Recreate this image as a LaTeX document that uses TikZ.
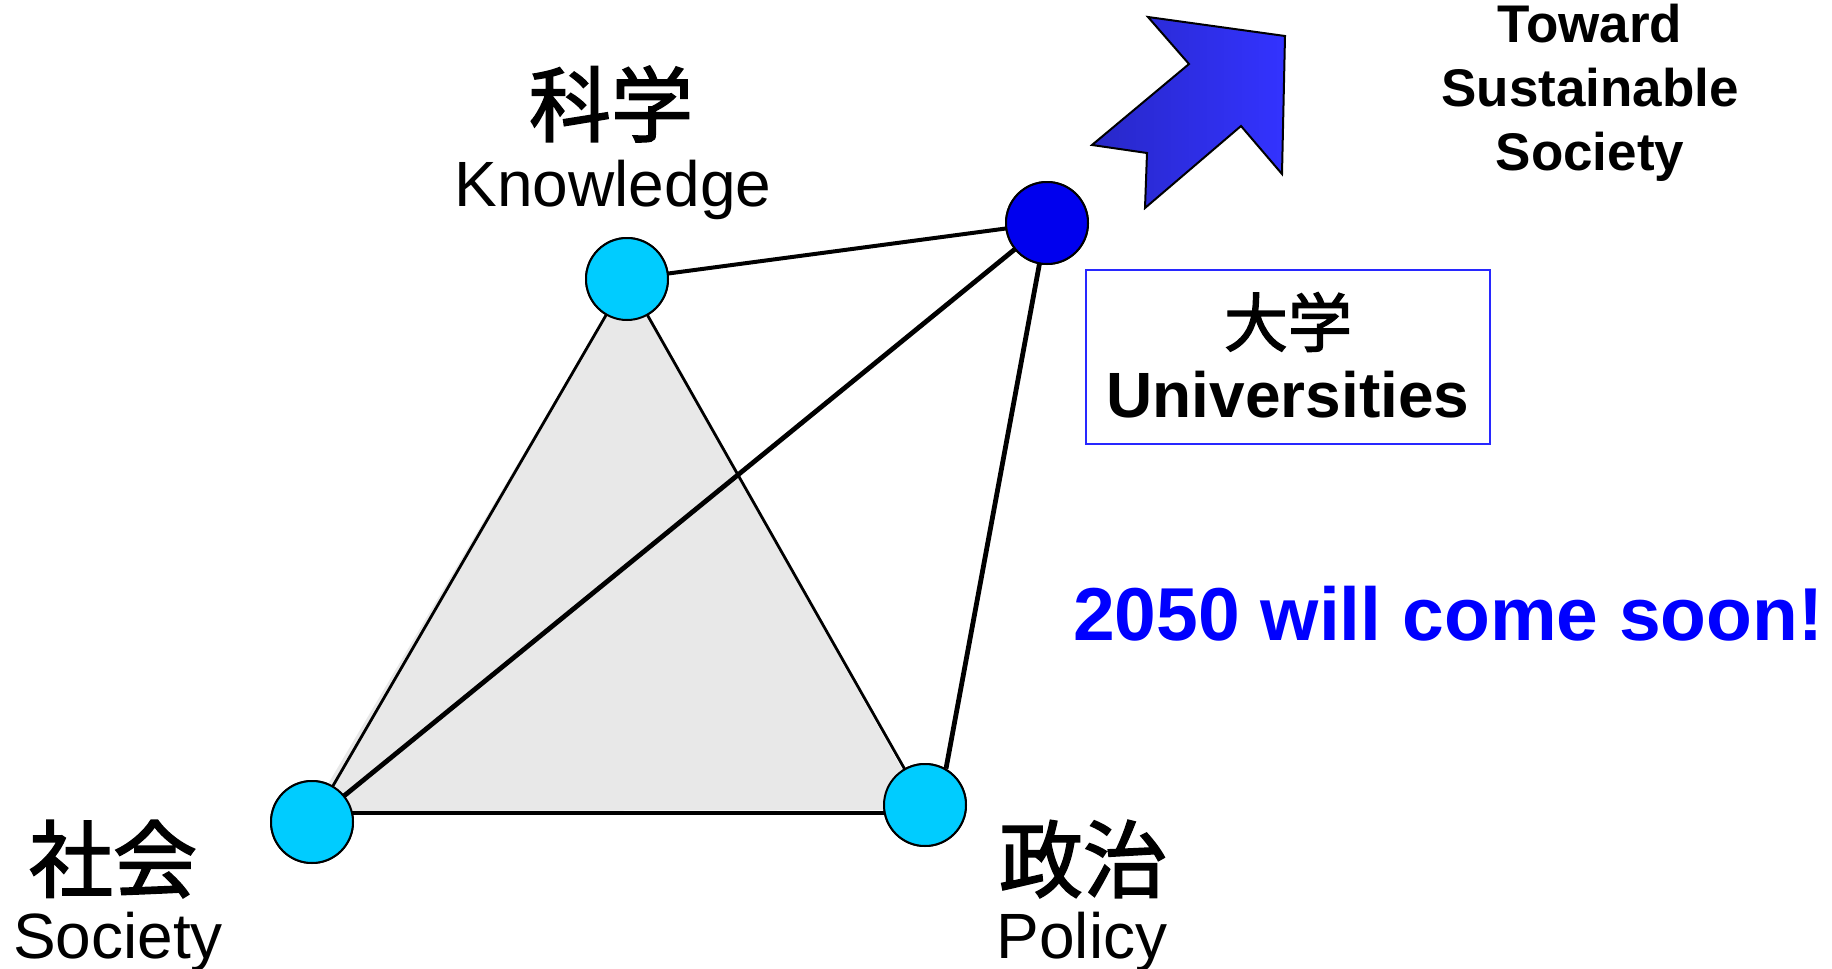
\documentclass[tikz,border=0pt]{standalone}
\usepackage{fontspec}
\setmainfont{Liberation Sans}
\newfontfamily\cjk[FakeBold=2]{Noto Sans CJK JP}
\usetikzlibrary{calc}
\definecolor{cyanfill}{RGB}{0,204,255}
\definecolor{unifill}{RGB}{0,0,238}
\definecolor{trigray}{RGB}{232,232,232}
\definecolor{boxblue}{RGB}{40,40,255}
\definecolor{textblue}{RGB}{0,0,255}
\definecolor{arrowdark}{RGB}{40,40,200}
\definecolor{arrowlight}{RGB}{51,51,255}
\begin{document}
\begin{tikzpicture}[x=1pt,y=-1pt,
  dot/.style={circle,draw=black,line width=2pt,minimum size=82pt,inner sep=0pt},
  thinline/.style={line width=2.8pt},
  thickline/.style={line width=4.8pt},
  cjklabel/.style={font=\cjk\fontsize{84}{86}\selectfont,inner sep=0pt},
  enlabel/.style={font=\fontsize{64}{70}\selectfont,inner sep=0pt,anchor=base}
]
\useasboundingbox (0,0) rectangle (1832,969);
% node positions
\coordinate (kc) at (627,279);
\coordinate (sc) at (312,822);
\coordinate (pc) at (925,805);
\coordinate (uc) at (1047,223);
\node[dot,fill=cyanfill] (know) at (kc) {};
\node[dot,fill=cyanfill] (soc) at (sc) {};
\node[dot,fill=cyanfill] (pol) at (pc) {};
\node[dot,fill=unifill] (uni) at (uc) {};
% gray triangle
\fill[trigray] (know.center) -- ($(soc.center)+(0,-11)$) -- ($(pol.center)+(0,5)$) -- cycle;
% connectors
\draw[thinline] (know.center) -- (soc.center);
\draw[thinline] (know.center) -- (pol.center);
\draw[line width=4pt] ($(soc.center)+(0,-9)$) -- ($(pol.center)+(0,8)$);
\draw[thickline] (soc.center) -- (uni.center);
\draw[line width=4pt] (know.center) -- (uni.center);
\draw[thickline] (uni.center) -- (pol.60);
% nodes on top
\node[dot,fill=cyanfill] at (kc) {};
\node[dot,fill=cyanfill] at (sc) {};
\node[dot,fill=cyanfill] at (pc) {};
\node[dot,fill=unifill] at (uc) {};
% labels
\node[cjklabel,font=\cjk\fontsize{82}{84}\selectfont] (kj) at (611,104) {科学};
\node[enlabel] (ke) at (613,206) {Knowledge};
\node[cjklabel] (sj) at (113,859) {社会};
\node[enlabel] (se) at (118,958) {Society};
\node[cjklabel] (pj) at (1083,859) {政治};
\node[enlabel] (pe) at (1082,958) {Policy};
% universities box
\node[draw=boxblue,line width=2pt,minimum width=404pt,minimum height=174pt,inner sep=0pt] (ubox) at (1288,357) {};
\node[font=\cjk\fontsize{64}{66}\selectfont,inner sep=0pt] (uj) at (1288,322) {大学};
\node[font=\bfseries\fontsize{64}{70}\selectfont,inner sep=0pt,anchor=base] (ue) at (1288,417) {Universities};
% 2050 text
\node[font=\bfseries\fontsize{75}{80}\selectfont,text=textblue,inner sep=0pt,anchor=base west] (y2050) at (1073,640) {2050 will come soon!};
% arrow
\draw[line width=2pt,line join=miter,left color=arrowdark,right color=arrowlight,draw=black]
  (1148,17) -- (1285,36) -- (1282,174) -- (1241,126) -- (1145,208) -- (1147,153) -- (1092,145) -- (1189,64) -- cycle;
% toward text
\node[font=\bfseries\fontsize{53}{64}\selectfont,inner sep=0pt,anchor=base] (t1) at (1590,42) {Toward};
\node[font=\bfseries\fontsize{53}{64}\selectfont,inner sep=0pt,anchor=base] (t2) at (1590,106) {Sustainable};
\node[font=\bfseries\fontsize{53}{64}\selectfont,inner sep=0pt,anchor=base] (t3) at (1590,170) {Society};
\end{tikzpicture}
\end{document}
